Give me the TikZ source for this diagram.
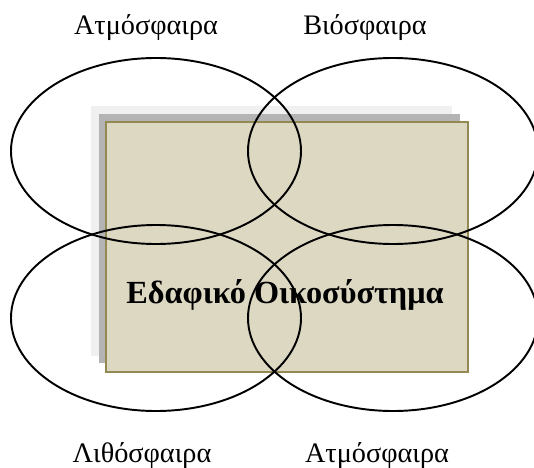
\documentclass[tikz,border=0pt]{standalone}
\usepackage{fontspec}
\setmainfont{Liberation Serif}
\usetikzlibrary{shapes.geometric}
\definecolor{boxfill}{HTML}{DDD8C2}
\definecolor{boxline}{HTML}{938953}
\definecolor{shadowA}{HTML}{F0F0F0}
\definecolor{shadowB}{HTML}{B4B4B4}
\tikzset{
  sphere/.style={ellipse, draw=black, line width=1.45pt, minimum width=217.5pt, minimum height=139.5pt, inner sep=0pt},
  layer/.style={rectangle, inner sep=0pt, minimum width=271pt, minimum height=187pt},
  lbl/.style={anchor=base, font=\fontsize{21.2}{25}\selectfont, inner sep=0pt},
  title/.style={anchor=base, font=\fontsize{24.2}{29}\selectfont\bfseries, inner sep=0pt}
}
\begin{document}
\begin{tikzpicture}[x=0.75pt,y=-0.75pt]
\useasboundingbox (0,0) rectangle (534,467);
\node[layer, fill=shadowA] (s1) at (271.5,231) {};
\node[layer, fill=shadowB] (s2) at (279.5,238.5) {};
\node[layer, fill=boxfill, draw=boxline, line width=1.4pt] (box) at (287,247) {};
\node[title] (t) at (285,303) {Εδαφικό Οικοσύστημα};
\node[sphere] (tl) at (156,151) {};
\node[sphere] (tr) at (393,151) {};
\node[sphere] (bl) at (156,318) {};
\node[sphere] (br) at (393,318) {};
\node[lbl] (l1) at (146,35) {Ατμόσφαιρα};
\node[lbl] (l2) at (365,35) {Βιόσφαιρα};
\node[lbl] (l3) at (142,462) {Λιθόσφαιρα};
\node[lbl] (l4) at (377,462) {Ατμόσφαιρα};
\end{tikzpicture}
\end{document}
